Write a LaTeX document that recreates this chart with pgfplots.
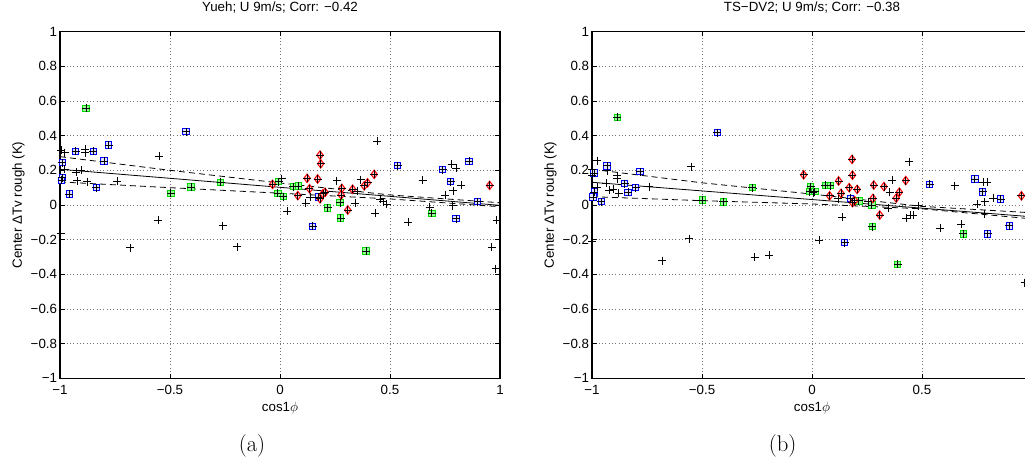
\documentclass[border=0pt]{standalone}
\usepackage{fontspec}
\usepackage{pgfplots}
\pgfplotsset{compat=1.18}
\usepackage{pgfplotstable}
\newfontfamily\arial{Liberation Sans}

% ---------- left panel (a) ----------
\pgfplotstableread{
x y
-0.882 0.558
-0.496 0.067
-0.404 0.104
-0.270 0.131
-0.006 0.135
-0.010 0.068
0.015 0.048
0.061 0.106
0.083 0.110
0.217 -0.016
0.273 0.013
0.276 -0.075
0.391 -0.265
0.690 -0.049
}\LGreen
\pgfplotstableread{
x y
-0.427 0.423
-0.779 0.346
-0.849 0.310
-0.929 0.310
-0.800 0.253
-0.990 0.244
-0.990 0.158
-0.993 0.143
-0.958 0.063
-0.835 0.100
0.174 0.046
0.148 -0.123
0.535 0.227
0.739 0.204
0.776 0.135
0.859 0.252
0.800 -0.079
0.898 0.019
}\LBlue
\pgfplotstableread{
x y
-0.034 0.119
0.182 0.288
0.185 0.238
0.123 0.154
0.171 0.150
0.134 0.094
0.081 0.054
0.182 0.036
0.195 0.065
0.205 0.073
0.281 0.096
0.278 0.058
0.308 -0.029
0.330 0.091
0.383 0.111
0.398 0.128
0.428 0.177
0.953 0.113
}\LRed
\pgfplotstableread{
x y
-0.994 0.317
-0.979 0.302
-0.885 0.321
-0.885 0.302
-0.979 0.206
-0.926 0.190
-0.903 0.200
-0.921 0.140
-0.877 0.135
-0.739 0.138
-0.997 -0.163
-0.682 -0.246
-0.550 0.280
-0.555 -0.088
-0.260 -0.119
-0.195 -0.240
0.008 0.152
0.033 -0.035
0.117 0.010
0.138 0.044
0.258 0.140
0.341 0.012
0.352 0.081
0.367 0.146
0.443 0.367
0.432 -0.048
0.455 0.035
0.470 0.019
0.485 0.004
0.583 -0.100
0.648 0.142
0.680 -0.012
0.750 0.058
0.780 0.235
0.801 0.212
0.785 -0.004
0.788 0.082
0.824 0.115
0.985 -0.086
0.963 -0.244
0.981 -0.367
}\LBlack

% ---------- right panel (b) ----------
\pgfplotstableread{
x y
-0.885 0.506
-0.498 0.029
-0.403 0.018
-0.271 0.100
-0.006 0.106
-0.011 0.077
0.013 0.077
0.061 0.114
0.083 0.112
0.213 0.024
0.272 0.000
0.274 -0.125
0.389 -0.342
0.688 -0.166
}\RGreen
\pgfplotstableread{
x y
-0.430 0.417
-0.782 0.193
-0.932 0.226
-0.991 0.185
-0.852 0.124
-0.836 0.074
-0.802 0.100
-0.990 0.075
-0.995 0.046
-0.958 0.019
0.174 0.038
0.148 -0.217
0.535 0.120
0.740 0.150
0.775 0.076
0.857 0.035
0.798 -0.166
0.897 -0.120
}\RBlue
\pgfplotstableread{
x y
-0.038 0.174
0.182 0.263
0.184 0.172
0.121 0.139
0.169 0.100
0.132 0.067
0.080 0.053
0.184 0.014
0.194 0.025
0.205 0.090
0.281 0.115
0.277 0.038
0.308 -0.058
0.327 0.106
0.383 0.040
0.397 0.074
0.426 0.141
0.952 0.053
}\RRed
\pgfplotstableread{
x y
-1.000 0.206
-0.976 0.256
-0.998 0.170
-0.930 0.198
-0.885 0.170
-0.885 0.152
-0.935 0.125
-0.977 0.102
-0.923 0.087
-0.905 0.092
-0.879 0.067
-0.741 0.106
-0.548 0.221
-0.998 -0.212
-0.682 -0.321
-0.559 -0.194
-0.261 -0.300
-0.195 -0.288
0.005 0.070
0.032 -0.202
0.118 0.036
0.138 -0.071
0.255 0.019
0.345 -0.019
0.353 0.073
0.365 0.144
0.441 0.250
0.429 -0.077
0.449 -0.060
0.460 -0.058
0.482 -0.004
0.584 -0.133
0.649 0.111
0.677 -0.111
0.750 0.006
0.777 0.131
0.797 0.131
0.785 0.019
0.823 0.038
0.785 -0.050
0.967 -0.448
}\RBlack

\definecolor{mgreen}{RGB}{0,215,0}
\pgfplotsset{
  panel/.style={
    scale only axis, width=330pt, height=260pt,
    anchor=south west,
    xmin=-1, xmax=1, ymin=-1, ymax=1,
    xtick={-1,-0.5,0,0.5,1},
    xticklabels={−1,−0.5,0,0.5,1},
    ytick={-1,-0.8,-0.6,-0.4,-0.2,0,0.2,0.4,0.6,0.8,1},
    yticklabels={−1,−0.8,−0.6,−0.4,−0.2,0,0.2,0.4,0.6,0.8,1},
    grid=major,
    major grid style={black!55, line width=0.5pt, dash pattern=on 0.5pt off 2pt},
    axis line style={line width=0.8pt},
    major tick length=3.5pt,
    tick style={black, line width=0.6pt},
    tick align=inside,
    font=\arial\fontsize{10}{12}\selectfont,
    every tick label/.append style={font=\arial\fontsize{10}{12}\selectfont},
    xticklabel style={anchor=base, yshift=-12pt},
    yticklabel style={inner sep=2pt},
    title style={at={(axis description cs:0.5,1.0346)}, anchor=base, font=\arial\fontsize{10}{12}\selectfont},
    xlabel style={at={(axis description cs:0.5,-0.0962)}, anchor=base, font=\arial\fontsize{10}{12}\selectfont},
    ylabel style={at={(axis description cs:-0.0864,0.5)}, anchor=base, font=\arial\fontsize{10}{12}\selectfont},
    xlabel={cos1$\phi$},
    ylabel={Center ΔTv rough (K)},
  },
  gmark/.style={only marks, mark=square*, mark size=2.4pt, mark options={draw=mgreen, fill=green!40, line width=0.7pt}},
  bmark/.style={only marks, mark=square*, mark size=2.4pt, mark options={draw=blue, fill=blue!12, line width=0.7pt}},
  rmark/.style={only marks, mark=diamond*, mark size=3.2pt, mark options={draw=red, fill=red!18, line width=0.75pt}},
  kmark/.style={only marks, mark=+, mark size=3pt, mark options={draw=black, line width=0.6pt}},
  fitline/.style={black, line width=0.6pt, no marks},
  bandline/.style={black, line width=0.6pt, no marks, dash pattern=on 4.5pt off 3pt},
}

\begin{document}
\begin{tikzpicture}
\useasboundingbox (0pt,0pt) rectangle (768.75pt,345.75pt);

\begin{axis}[panel, at={(45pt,62pt)}, title={Yueh; U 9m/s; Corr: −0.42}]
  \addplot[gmark] table {\LGreen};
  \addplot[bmark] table {\LBlue};
  \addplot[rmark] table {\LRed};
  \addplot[kmark] table {\LGreen};
  \addplot[kmark] table {\LBlue};
  \addplot[kmark] table {\LRed};
  \addplot[kmark] table {\LBlack};
  \addplot[fitline] coordinates {(-1,0.206) (1,-0.002)};
  \addplot[bandline] coordinates {(-1,0.279) (-0.5,0.200) (0,0.127) (0.5,0.058) (1,0.013)};
  \addplot[bandline] coordinates {(-1,0.133) (-0.5,0.100) (0,0.068) (0.5,0.035) (1,-0.010)};
\end{axis}

\begin{axis}[panel, at={(444pt,62pt)}, title={TS−DV2; U 9m/s; Corr: −0.38},
  xticklabels={−1,−0.5,0,0.5,{}}]
  \addplot[gmark] table {\RGreen};
  \addplot[bmark] table {\RBlue};
  \addplot[rmark] table {\RRed};
  \addplot[kmark] table {\RGreen};
  \addplot[kmark] table {\RBlue};
  \addplot[kmark] table {\RRed};
  \addplot[kmark] table {\RBlack};
  \addplot[fitline] coordinates {(-1,0.131) (1,-0.068)};
  \addplot[bandline] coordinates {(-1,0.206) (-0.5,0.128) (0,0.063) (0.5,-0.008) (1,-0.045)};
  \addplot[bandline] coordinates {(-1,0.048) (-0.5,0.025) (0,0.006) (0.5,-0.022) (1,-0.080)};
\end{axis}

\node[anchor=base, font=\fontsize{17}{20}\selectfont] at (189pt,7.5pt) {(a)};
\node[anchor=base, font=\fontsize{17}{20}\selectfont] at (587pt,7.5pt) {(b)};
\end{tikzpicture}
\end{document}
